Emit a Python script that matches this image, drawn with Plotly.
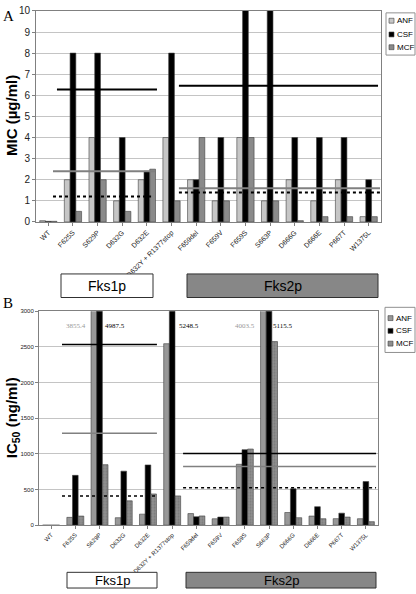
import plotly.graph_objects as go

# ---------------- data ----------------
strains = ["WT", "F625S", "S629P", "D632G", "D632E", "D632Y + R1377stop",
           "F659del", "F659V", "F659S", "S663P", "D666G", "D666E", "P667T", "W1375L"]

series = ["ANF", "CSF", "MCF"]

# Panel A: MIC (ug/ml)
mic_anf = [0.06, 2, 4, 1, 2, 4, 2, 1, 4, 1, 2, 1, 2, 0.25]
mic_csf = [0.03, 8, 8, 4, 2.4, 8, 2, 4, 16, 16, 4, 4, 4, 2]
mic_mcf = [0.03, 0.5, 2, 0.5, 2.5, 1, 4, 1, 4, 1, 0.06, 0.25, 0.25, 0.25]

# Panel B: IC50 (ng/ml)
ic_anf = [0, 110, 3855.4, 105, 155, 2545, 163, 90, 854, 4003.5, 178, 128, 92, 91]
ic_csf = [0, 699, 4987.5, 758, 845, 5248.5, 119, 114, 1059, 5115.5, 511, 260, 169, 612]
ic_mcf = [0, 128, 849, 342, 438, 411, 130, 114, 1068, 2575, 105, 91, 114, 50]

# reference lines (group values): [Fks1p, Fks2p]
mic_line_csf = [6.27, 6.45]
mic_line_anf = [2.4, 1.6]
mic_line_mcf = [1.2, 1.4]
ic_line_csf = [2535, 1004]
ic_line_anf = [1290, 822]
ic_line_mcf = [411, 525]

# values printed above clipped bars in panel B
clip_labels = ["3855.4", "4987.5", "5248.5", "4003.5", "5115.5"]
clip_strain = ["S629P", "S629P", "D632Y + R1377stop", "S663P", "S663P"]
clip_series = ["ANF", "CSF", "CSF", "ANF", "CSF"]

W, H = 416, 594

def px_x(p):
    return p / W

def px_y(p):
    return 1 - p / H

fig = go.Figure()

colA = {"ANF": "#c6c6c6", "CSF": "#000000", "MCF": "#8a8a8a"}
colB = {"ANF": "#989898", "CSF": "#000000", "MCF": "#8e8e8e"}

for name, vals in zip(series, [mic_anf, mic_csf, mic_mcf]):
    fig.add_trace(go.Bar(
        x=strains, y=vals, name=name, xaxis="x", yaxis="y",
        marker=dict(color=colA[name], line=dict(color="#404040", width=0.6)),
    ))

for name, vals in zip(series, [ic_anf, ic_csf, ic_mcf]):
    mk = dict(color=colB[name], line=dict(color="#404040", width=0.6))
    if name == "MCF":
        mk["pattern"] = dict(shape=".", fgcolor="#6a6a6a", size=3, solidity=0.3)
    fig.add_trace(go.Bar(
        x=strains, y=vals, name=name, xaxis="x2", yaxis="y2",
        marker=mk,
    ))

shapes = []
annotations = []

def hline(xa, ya, x0, x1, yv, color, width, dash="solid"):
    shapes.append(dict(type="line", xref=xa, yref=ya, x0=x0, x1=x1, y0=yv, y1=yv,
                       line=dict(color=color, width=width, dash=dash), layer="above"))

# Panel A lines (category units)
hline("x", "y", 0.35, 4.41, mic_line_csf[0], "#000", 2)
hline("x", "y", 0.19, 4.33, mic_line_anf[0], "#808080", 2)
hline("x", "y", 0.19, 4.17, mic_line_mcf[0], "#000", 2, "dot")
hline("x", "y", 5.30, 13.38, mic_line_csf[1], "#000", 2)
hline("x", "y", 5.30, 13.46, mic_line_anf[1], "#808080", 2)
hline("x", "y", 5.30, 13.46, mic_line_mcf[1], "#000", 2, "dot")

# Panel B lines
hline("x2", "y2", 0.45, 4.37, ic_line_csf[0], "#000", 1.5)
hline("x2", "y2", 0.45, 4.37, ic_line_anf[0], "#808080", 1.5)
hline("x2", "y2", 0.45, 4.37, ic_line_mcf[0], "#000", 1.5, "dot")
hline("x2", "y2", 5.45, 13.42, ic_line_csf[1], "#000", 1.5)
hline("x2", "y2", 5.45, 13.42, ic_line_anf[1], "#808080", 1.5)
hline("x2", "y2", 5.45, 13.42, ic_line_mcf[1], "#000", 1.5, "dot")

# group boxes
def box(x0, x1, y0, y1, fill, text, size=14):
    shapes.append(dict(type="rect", xref="paper", yref="paper",
                       x0=px_x(x0), x1=px_x(x1), y0=px_y(y1), y1=px_y(y0),
                       fillcolor=fill, line=dict(color="#303030", width=1)))
    annotations.append(dict(xref="paper", yref="paper", x=px_x((x0 + x1) / 2),
                            y=px_y((y0 + y1) / 2), text=text, showarrow=False,
                            font=dict(family="Liberation Sans, Arial", size=size, color="#000"),
                            xanchor="center", yanchor="middle"))

box(61, 153, 273, 297, "#ffffff", "Fks1p")
box(187, 378, 273, 297, "#878787", "Fks2p")
box(67, 157, 577, 593, "#ffffff", "Fks1p", 13)
box(186, 376, 577, 593, "#878787", "Fks2p", 13)

# manual legends
def legend(x0, y0, x1, y1, rows, cols):
    shapes.append(dict(type="rect", xref="paper", yref="paper",
                       x0=px_x(x0), x1=px_x(x1), y0=px_y(y1), y1=px_y(y0),
                       fillcolor="white", line=dict(color="#909090", width=1)))
    for name, ry in zip(series, rows):
        shapes.append(dict(type="rect", xref="paper", yref="paper",
                           x0=px_x(x0 + 3), x1=px_x(x0 + 8), y0=px_y(ry + 2.5), y1=px_y(ry - 2.5),
                           fillcolor=cols[name], line=dict(color="#404040", width=0.6)))
        annotations.append(dict(xref="paper", yref="paper", x=px_x(x0 + 8.5), y=px_y(ry),
                                text=name, showarrow=False, xanchor="left", yanchor="middle",
                                font=dict(family="Liberation Sans Narrow, Liberation Sans, Arial",
                                          size=8, color="#000")))

legend(386, 7, 415, 50, [15, 29, 42], colA)
legend(385, 307, 415, 353, [318, 331, 344], colB)

# panel letters
annotations.append(dict(xref="paper", yref="paper", x=px_x(1), y=px_y(10), text="A",
                        showarrow=False, xanchor="left", yanchor="middle",
                        font=dict(family="Liberation Serif, serif", size=15, color="#000")))
annotations.append(dict(xref="paper", yref="paper", x=px_x(1), y=px_y(303), text="B",
                        showarrow=False, xanchor="left", yanchor="middle",
                        font=dict(family="Liberation Serif, serif", size=15, color="#000")))

# axis titles
annotations.append(dict(xref="paper", yref="paper", x=px_x(12), y=px_y(112),
                        text="<b>MIC (µg/ml)</b>", textangle=-90, showarrow=False,
                        xanchor="center", yanchor="middle",
                        font=dict(family="Liberation Sans, Arial", size=15, color="#000")))
annotations.append(dict(xref="paper", yref="paper", x=px_x(12), y=px_y(420),
                        text="<b>IC<sub>50</sub> (ng/ml)</b>", textangle=-90, showarrow=False,
                        xanchor="center", yanchor="middle",
                        font=dict(family="Liberation Sans, Arial", size=15, color="#000")))

# clipped value labels
shift = {"ANF": -24, "CSF": 15}
for lab, st, se in zip(clip_labels, clip_strain, clip_series):
    sh = shift[se]
    if st == "D632Y + R1377stop":
        sh = 17
    if st == "S663P" and se == "CSF":
        sh = 13
    annotations.append(dict(xref="x2", yref="y2", x=st, y=2790, text=lab,
                            showarrow=False, xshift=sh, xanchor="center", yanchor="middle",
                            font=dict(family="Liberation Serif, serif", size=7,
                                      color="#999999" if se == "ANF" else "#000000")))

xaxis_common = dict(type="category", categoryorder="array", categoryarray=strains,
                    tickangle=-45, showline=True, linecolor="#808080", mirror=True,
                    ticks="outside", ticklen=3, tickcolor="#808080",
                    showgrid=False, automargin=False)

fig.update_layout(
    width=W, height=H,
    margin=dict(l=0, r=0, t=0, b=0),
    paper_bgcolor="white", plot_bgcolor="white",
    barmode="group", bargap=0.3, bargroupgap=0,
    showlegend=False,
    xaxis=dict(domain=[px_x(36), px_x(381)], anchor="y",
               tickfont=dict(family="Liberation Sans, Arial", size=7, color="#222"),
               **xaxis_common),
    yaxis=dict(domain=[px_y(220), px_y(5)], anchor="x", range=[0, 10], dtick=1,
               showgrid=True, gridcolor="#c4c4c4", gridwidth=1,
               showline=True, linecolor="#808080", mirror=True, zeroline=False,
               ticks="outside", ticklen=3, tickcolor="#808080",
               tickfont=dict(family="Liberation Sans, Arial", size=10, color="#222")),
    xaxis2=dict(domain=[px_x(39), px_x(378)], anchor="y2",
                tickfont=dict(family="Liberation Sans, Arial", size=6, color="#222"),
                **xaxis_common),
    yaxis2=dict(domain=[px_y(529), px_y(311)], anchor="x2", range=[0, 3000], dtick=500,
                showgrid=True, gridcolor="#c4c4c4", gridwidth=1,
                showline=True, linecolor="#808080", mirror=True, zeroline=False,
                ticks="outside", ticklen=3, tickcolor="#808080",
                tickfont=dict(family="Liberation Sans, Arial", size=6, color="#222")),
    shapes=shapes,
    annotations=annotations,
)

fig.write_html("out.html",
               config={"displayModeBar": False},
               post_script="document.body.style.margin='0';document.body.style.padding='0';document.body.style.overflow='hidden';")
